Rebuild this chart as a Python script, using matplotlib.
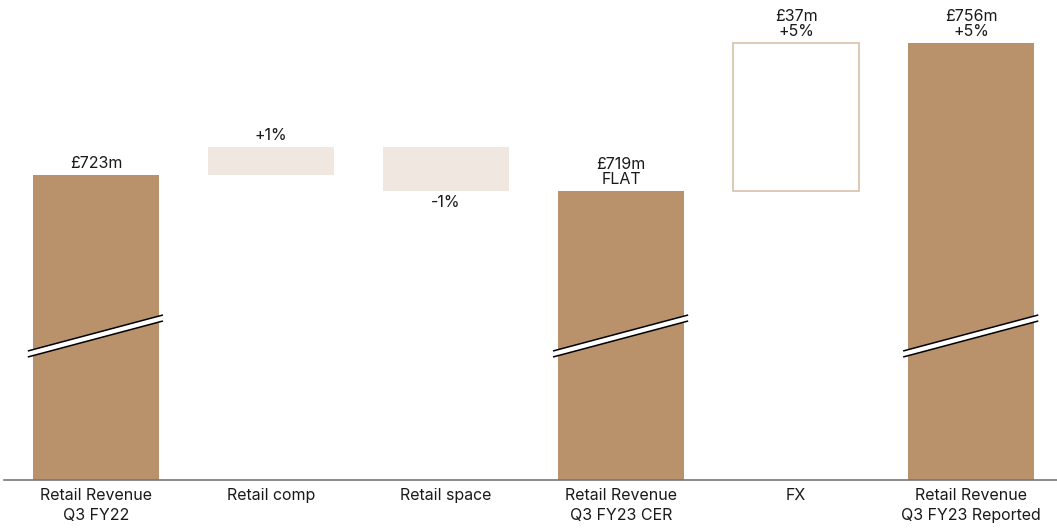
import matplotlib.pyplot as plt
from matplotlib.patches import Polygon

categories = ["Retail Revenue\nQ3 FY22", "Retail comp", "Retail space",
              "Retail Revenue\nQ3 FY23 CER", "FX", "Retail Revenue\nQ3 FY23 Reported"]
# £m: totals and movements
start_total = 723
retail_comp = 7
retail_space = -11
cer_total = 719
fx_change = 37
reported_total = 756
value_labels = ["£723m", "+1%", "-1%", "£719m\nFLAT", "£37m\n+5%", "£756m\n+5%"]

BROWN = "#B9916B"
LIGHT = "#F1E7E1"
OUTLINE = "#D8C1A8"
TEXT = "#1a1a1a"

plt.rcParams['font.family'] = ['Inter', 'DejaVu Sans']

fig = plt.figure(figsize=(10.57, 5.30), dpi=100)
ax = fig.add_axes([4 / 1057, 50 / 530, 1053 / 1057, 480 / 530])

y0 = 646.75
ax.set_ylim(y0, 766.75)
ax.set_xlim(-0.525, 5.49)
w = 0.72
x = list(range(len(categories)))

# totals
for i, v in [(0, start_total), (3, cer_total), (5, reported_total)]:
    ax.bar(i, v - y0, bottom=y0, width=w, color=BROWN, zorder=2)

# movements
comp_top = start_total + retail_comp
ax.bar(1, retail_comp, bottom=start_total, width=w, color=LIGHT, zorder=2)
ax.bar(2, -retail_space, bottom=cer_total, width=w, color=LIGHT, zorder=2)
ax.bar(4, fx_change, bottom=cer_total, width=w, facecolor="white",
       edgecolor=OUTLINE, linewidth=1.2, zorder=2)

# axis break marks on the total bars
yc, rise, gap = 682.75, 4.5, 0.75
for i in (0, 3, 5):
    xl, xr = i - 0.389, i + 0.383
    poly = Polygon([(xl, yc - rise - gap), (xr, yc + rise - gap),
                    (xr, yc + rise + gap), (xl, yc - rise + gap)],
                   closed=True, facecolor="white", edgecolor="none", zorder=3)
    ax.add_patch(poly)
    for s in (-gap, gap):
        ax.plot([xl, xr], [yc - rise + s, yc + rise + s], color="black",
                lw=1.1, zorder=4, solid_capstyle="butt")

fs = 11.5
pad = 1.0
ax.text(0, start_total + pad, value_labels[0], ha="center", va="bottom", fontsize=fs, color=TEXT)
ax.text(1, comp_top + pad, value_labels[1], ha="center", va="bottom", fontsize=fs, color=TEXT)
ax.text(2, cer_total - pad, value_labels[2], ha="center", va="top", fontsize=fs, color=TEXT)
ax.text(3, cer_total + pad, value_labels[3], ha="center", va="bottom", fontsize=fs, color=TEXT,
        linespacing=1.0)
ax.text(4, reported_total + pad, value_labels[4], ha="center", va="bottom", fontsize=fs, color=TEXT,
        linespacing=1.0)
ax.text(5, reported_total + pad, value_labels[5], ha="center", va="bottom", fontsize=fs, color=TEXT,
        linespacing=1.0)

ax.set_xticks(x)
ax.set_xticklabels(categories, fontsize=fs, color=TEXT, linespacing=1.35)
ax.tick_params(axis="x", length=0, pad=6)
ax.set_yticks([])
for side in ("top", "right", "left"):
    ax.spines[side].set_visible(False)
ax.spines["bottom"].set_color("#777777")
ax.spines["bottom"].set_linewidth(1.2)
ax.spines["bottom"].set_zorder(5)

fig.savefig("out.png", dpi=100)
